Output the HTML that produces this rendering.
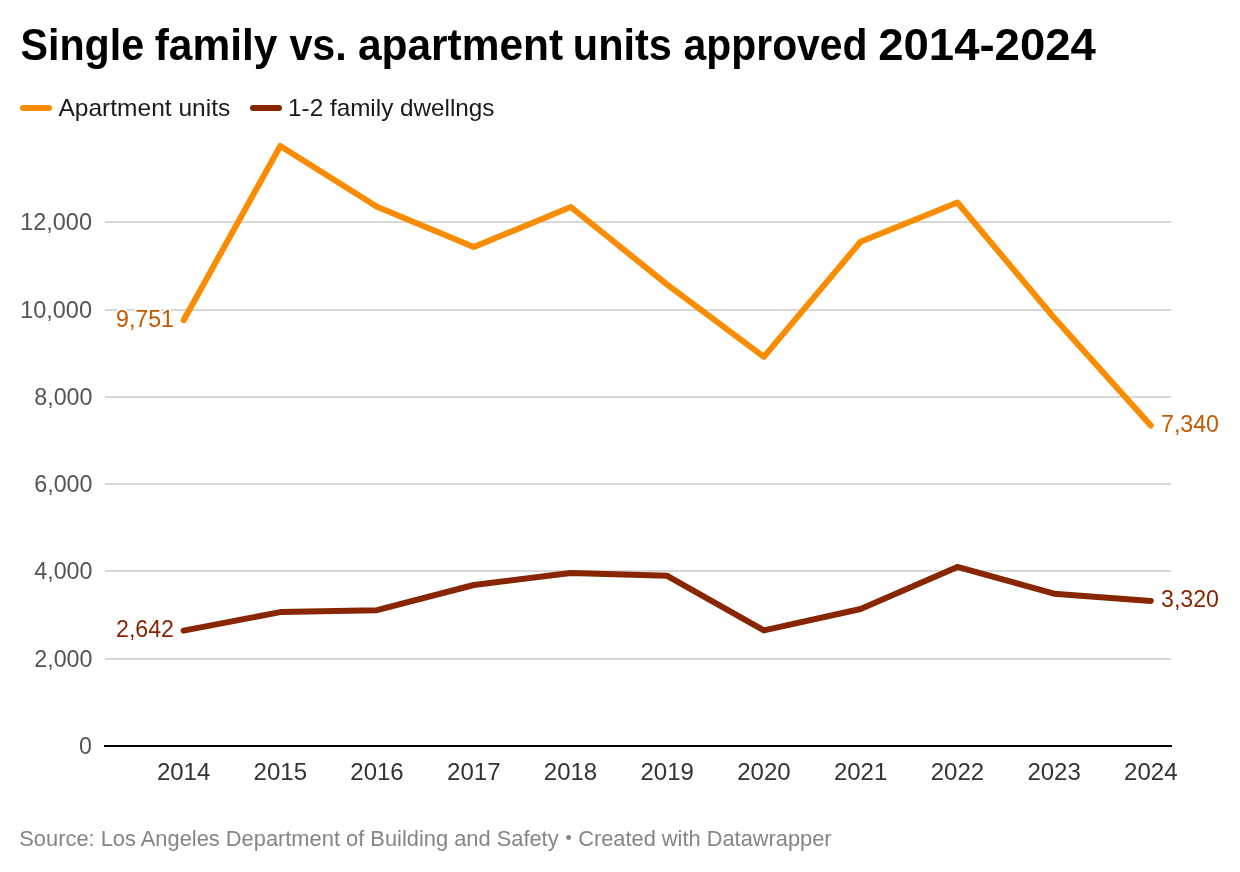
<!DOCTYPE html>
<html><head><meta charset="utf-8"><title>Single family vs. apartment units approved 2014-2024</title>
<style>
html,body{margin:0;padding:0;background:#fff;}
body{width:1240px;height:872px;overflow:hidden;}
svg{display:block;will-change:transform;}
text{font-family:"Liberation Sans",Arial,sans-serif;}
.title{font-weight:bold;font-size:44px;fill:#000;}
.leg{font-size:24px;fill:#1a1a1a;}
.yl{font-size:24px;fill:#555;}
.xl{font-size:24px;fill:#333;}
.lab{font-size:24px;stroke:#fff;stroke-width:4px;paint-order:stroke;stroke-linejoin:round;}
.foot{font-size:22px;fill:#858585;}
</style></head>
<body>
<svg width="1240" height="872" viewBox="0 0 1240 872">
<text x="20.56" y="60" class="title" textLength="123.50" lengthAdjust="spacingAndGlyphs">Single</text>
<text x="154.73" y="60" class="title" textLength="122.73" lengthAdjust="spacingAndGlyphs">family</text>
<text x="289.40" y="60" class="title" textLength="57.38" lengthAdjust="spacingAndGlyphs">vs.</text>
<text x="357.94" y="60" class="title" textLength="205.16" lengthAdjust="spacingAndGlyphs">apartment</text>
<text x="572.87" y="60" class="title" textLength="99.07" lengthAdjust="spacingAndGlyphs">units</text>
<text x="683.57" y="60" class="title" textLength="183.96" lengthAdjust="spacingAndGlyphs">approved</text>
<text x="878.17" y="60" class="title" textLength="217.77" lengthAdjust="spacingAndGlyphs">2014-2024</text>
<line x1="23" y1="108" x2="49" y2="108" stroke="#f98c00" stroke-width="6" stroke-linecap="round"/>
<text x="58.5" y="116" class="leg" textLength="171.72" lengthAdjust="spacingAndGlyphs">Apartment units</text>
<line x1="253" y1="108" x2="279" y2="108" stroke="#872600" stroke-width="6" stroke-linecap="round"/>
<text x="288.08" y="116" class="leg" textLength="206.43" lengthAdjust="spacingAndGlyphs">1-2 family dwellngs</text>
<rect x="105" y="221" width="1066" height="2" fill="#d8d8d8"/>
<rect x="105" y="309" width="1066" height="2" fill="#d8d8d8"/>
<rect x="105" y="396" width="1066" height="2" fill="#d8d8d8"/>
<rect x="105" y="483" width="1066" height="2" fill="#d8d8d8"/>
<rect x="105" y="570" width="1066" height="2" fill="#d8d8d8"/>
<rect x="105" y="658" width="1066" height="2" fill="#d8d8d8"/>
<text x="20.14" y="230" class="yl" textLength="71.86" lengthAdjust="spacingAndGlyphs">12,000</text>
<text x="20.14" y="318" class="yl" textLength="71.86" lengthAdjust="spacingAndGlyphs">10,000</text>
<text x="34.23" y="405" class="yl" textLength="58.3" lengthAdjust="spacingAndGlyphs">8,000</text>
<text x="34.23" y="492" class="yl" textLength="58.3" lengthAdjust="spacingAndGlyphs">6,000</text>
<text x="34.23" y="579" class="yl" textLength="58.3" lengthAdjust="spacingAndGlyphs">4,000</text>
<text x="34.23" y="667" class="yl" textLength="58.3" lengthAdjust="spacingAndGlyphs">2,000</text>
<text x="79.03" y="754" class="yl" textLength="12.91" lengthAdjust="spacingAndGlyphs">0</text>
<rect x="104" y="745" width="1068" height="2" fill="#000"/>
<text x="183.6" y="780" text-anchor="middle" class="xl">2014</text>
<text x="280.3" y="780" text-anchor="middle" class="xl">2015</text>
<text x="377.0" y="780" text-anchor="middle" class="xl">2016</text>
<text x="473.8" y="780" text-anchor="middle" class="xl">2017</text>
<text x="570.5" y="780" text-anchor="middle" class="xl">2018</text>
<text x="667.2" y="780" text-anchor="middle" class="xl">2019</text>
<text x="763.9" y="780" text-anchor="middle" class="xl">2020</text>
<text x="860.6" y="780" text-anchor="middle" class="xl">2021</text>
<text x="957.4" y="780" text-anchor="middle" class="xl">2022</text>
<text x="1054.1" y="780" text-anchor="middle" class="xl">2023</text>
<text x="1150.8" y="780" text-anchor="middle" class="xl">2024</text>
<polyline points="183.6,320.2 280.3,146.0 377.0,206.8 473.8,247.0 570.8,207.0 667.2,284.6 763.9,356.9 860.6,241.7 957.4,202.5 1054.1,317.8 1150.8,425.5" fill="none" stroke="#f98c00" stroke-width="6" stroke-linecap="round" stroke-linejoin="round"/>
<polyline points="183.6,630.6 280.3,612.1 377.0,610.2 473.8,585.0 570.5,573.1 667.2,575.8 763.9,630.4 860.6,609.0 957.4,566.9 1054.1,593.7 1150.8,600.9" fill="none" stroke="#872600" stroke-width="6" stroke-linecap="round" stroke-linejoin="round"/>
<text x="174" y="326.9" text-anchor="end" class="lab" fill="#c45800" textLength="58" lengthAdjust="spacingAndGlyphs">9,751</text>
<text x="1161" y="431.6" class="lab" fill="#c45800" textLength="58" lengthAdjust="spacingAndGlyphs">7,340</text>
<text x="174" y="636.6" text-anchor="end" class="lab" fill="#872600" textLength="58" lengthAdjust="spacingAndGlyphs">2,642</text>
<text x="1161" y="606.8" class="lab" fill="#872600" textLength="58" lengthAdjust="spacingAndGlyphs">3,320</text>
<text x="19.31" y="846" class="foot" textLength="539.31" lengthAdjust="spacingAndGlyphs">Source: Los Angeles Department of Building and Safety</text>
<text x="568.6" y="843.5" class="foot" text-anchor="middle" style="font-size:18px">•</text>
<text x="578.21" y="846" class="foot" textLength="253.36" lengthAdjust="spacingAndGlyphs">Created with Datawrapper</text>
</svg>
</body></html>
